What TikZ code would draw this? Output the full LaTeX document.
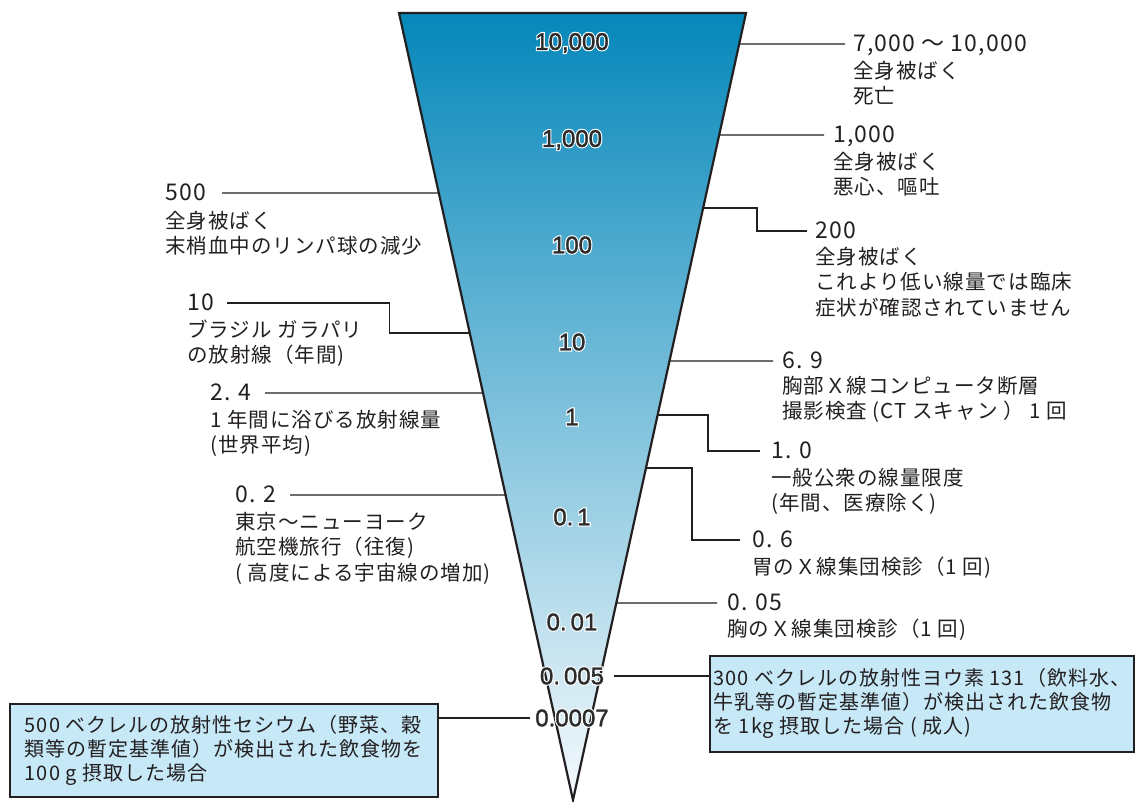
\documentclass[tikz,border=0pt]{standalone}
\usepackage{fontspec}
\setmainfont{Noto Sans CJK JP}
\newfontfamily\jpfont[LetterSpace=5]{Noto Sans CJK JP}
\newfontfamily\numfont[FakeBold=1.5]{Liberation Sans}
\newfontfamily\halofont[FakeBold=11]{Liberation Sans}
\usetikzlibrary{calc}
\usetikzlibrary{positioning}

\definecolor{tritop}{HTML}{0587BA}
\definecolor{tribot}{HTML}{F5FAFD}
\definecolor{inkline}{HTML}{231F20}
\definecolor{numgray}{HTML}{2B2B2B}
\definecolor{boxfill}{HTML}{C6E8F7}

% number inside the cone, with a white halo underneath
\newcommand{\conelabel}[3]{%
  \node[trinum, font=\halofont\fontsize{24}{24}\selectfont, text=white] (#1h) at (572,#2) {#3};
  \node[trinum] (#1) at (572,#2) {#3};
}

\begin{document}
\begin{tikzpicture}[x=1pt,y=-1pt]
  \tikzset{num/.style = {font=\jpfont\fontsize{23}{25}\selectfont, text=inkline, inner sep=0pt, anchor=west, text height=15pt, text depth=0pt}}
  \tikzset{desc/.style = {font=\jpfont\fontsize{20.5}{25.5}\selectfont, text=inkline, inner sep=0pt, anchor=north west, align=left}}
  \tikzset{trinum/.style = {font=\numfont\fontsize{24}{24}\selectfont, text=numgray, inner sep=0pt}}
  \tikzset{conn/.style = {draw=inkline, line width=1.25pt}}
  \tikzset{infobox/.style = {draw=inkline, line width=1.6pt, fill=boxfill, inner sep=0pt, align=left, font=\jpfont\fontsize{20}{24}\selectfont, text=inkline}}

  \useasboundingbox (0,0) rectangle (1136,802);

  % the cone
  \coordinate (tl) at (399,13);
  \coordinate (tr) at (746,13);
  \coordinate (ap) at (573,800);
  \shade[top color=tritop, bottom color=tribot] (tl) -- (tr) -- (ap) -- cycle;
  \draw[inkline, line width=2.2pt] (tl) -- (tr) -- (ap) -- cycle;

  % right side
  \node[num] (n7000) at (853,44) {7,000 ～ 10,000};
  \node[desc] (d7000) at ([yshift=-9pt]n7000.south west) {全身被ばく\\死亡};
  \draw[conn] ($(tr)!{(44-13)/787}!(ap)$) -- ([xshift=-8pt]n7000.west);

  \node[num] (n1000) at (833,135) {1,000};
  \node[desc] (d1000) at ([yshift=-9pt]n1000.south west) {全身被ばく\\悪心、嘔吐};
  \draw[conn] ($(tr)!{(135-13)/787}!(ap)$) -- ([xshift=-9pt]n1000.west);

  \node[num] (n200) at (815,231) {200};
  \node[desc] (d200) at ([yshift=-8pt]n200.south west) {全身被ばく\\これより低い線量では臨床\\症状が確認されていません};
  \draw[conn] ($(tr)!{(208-13)/787}!(ap)$) -| ([xshift=-58pt]n200.west) -- ([xshift=-8pt]n200.west);

  \node[num] (n6p9) at (782,361) {6. 9};
  \node[desc] (d6p9) at ([yshift=-7pt]n6p9.south west) {胸部Ｘ線コンピュータ断層\\撮影検査 (CT スキャン ） 1 回};
  \draw[conn] ($(tr)!{(361-13)/787}!(ap)$) -- ([xshift=-9pt]n6p9.west);

  \node[num] (n1p0) at (771,451) {1. 0};
  \node[desc] (d1p0) at ([yshift=-9pt]n1p0.south west) {一般公衆の線量限度\\(年間、医療除く)};
  \draw[conn] ($(tr)!{(415-13)/787}!(ap)$) -| ([xshift=-63pt]n1p0.west) -- ([xshift=-11pt]n1p0.west);

  \node[num] (n0p6) at (752,540) {0. 6};
  \node[desc] (d0p6) at ([yshift=-9pt]n0p6.south west) {胃のＸ線集団検診（1 回)};
  \draw[conn] ($(tr)!{(468-13)/787}!(ap)$) -| ([xshift=-60pt]n0p6.west) -- ([xshift=-12pt]n0p6.west);

  \node[num] (n0p05) at (727,603) {0. 05};
  \node[desc] (d0p05) at ([yshift=-8pt]n0p05.south west) {胸のＸ線集団検診（1 回)};
  \draw[conn] ($(tr)!{(603-13)/787}!(ap)$) -- ([xshift=-10pt]n0p05.west);

  % left side
  \node[num] (n500) at (165,193) {500};
  \node[desc] (d500) at ([yshift=-10pt]n500.south west) {全身被ばく\\末梢血中のリンパ球の減少};
  \draw[conn] ([xshift=57pt]n500.west) -- ($(tl)!{(193-13)/787}!(ap)$);

  \node[num] (n10) at (187,303) {10};
  \node[desc] (d10) at ([yshift=-9pt]n10.south west) {ブラジル ガラパリ\\の放射線（年間)};
  \coordinate (eL10) at ($(tl)!{(333-13)/787}!(ap)$);
  \draw[conn] ([xshift=40pt]n10.west) -| ([xshift=-80pt]eL10) -- (eL10);

  \node[num] (n2p4) at (210,393) {2. 4};
  \node[desc] (d2p4) at ([yshift=-9pt]n2p4.south west) {1 年間に浴びる放射線量\\(世界平均)};
  \draw[conn] ([xshift=55pt]n2p4.west) -- ($(tl)!{(393-13)/787}!(ap)$);

  \node[num] (n0p2) at (235,495) {0. 2};
  \node[desc] (d0p2) at ([yshift=-9pt]n0p2.south west) {東京～ニューヨーク\\航空機旅行（往復)\\( 高度による宇宙線の増加)};
  \draw[conn] ([xshift=55pt]n0p2.west) -- ($(tl)!{(495-13)/787}!(ap)$);

  % boxes
  \node[infobox, minimum width=424pt, minimum height=96pt, anchor=north west] (boxI) at (709,655)
    {300 ベクレルの放射性ヨウ素 131（飲料水、\\牛乳等の暫定基準値）が検出された飲食物\\を 1kg 摂取した場合 ( 成人)};
  \node[infobox, minimum width=428pt, minimum height=93pt, anchor=north west] (boxCs) at (9,703)
    {500 ベクレルの放射性セシウム（野菜、穀\\類等の暫定基準値）が検出された飲食物を\\100 g 摂取した場合};

  % scale inside the cone
  \conelabel{t10000}{43}{10,000}
  \conelabel{t1000}{140}{1,000}
  \conelabel{t100}{245}{100}
  \conelabel{t10}{342}{10}
  \conelabel{t1}{417}{1}
  \conelabel{t0p1}{517}{0.\,1}
  \conelabel{t0p01}{622}{0.\,01}
  \conelabel{t0p005}{676}{0.\,005}
  \conelabel{t0p0007}{718}{0.0007}

  \draw[conn] ([xshift=10pt]t0p005.east) -- (t0p005.east -| boxI.west);
  \draw[conn] ([xshift=-5pt]t0p0007.west) -- (t0p0007.west -| boxCs.east);
\end{tikzpicture}
\end{document}
